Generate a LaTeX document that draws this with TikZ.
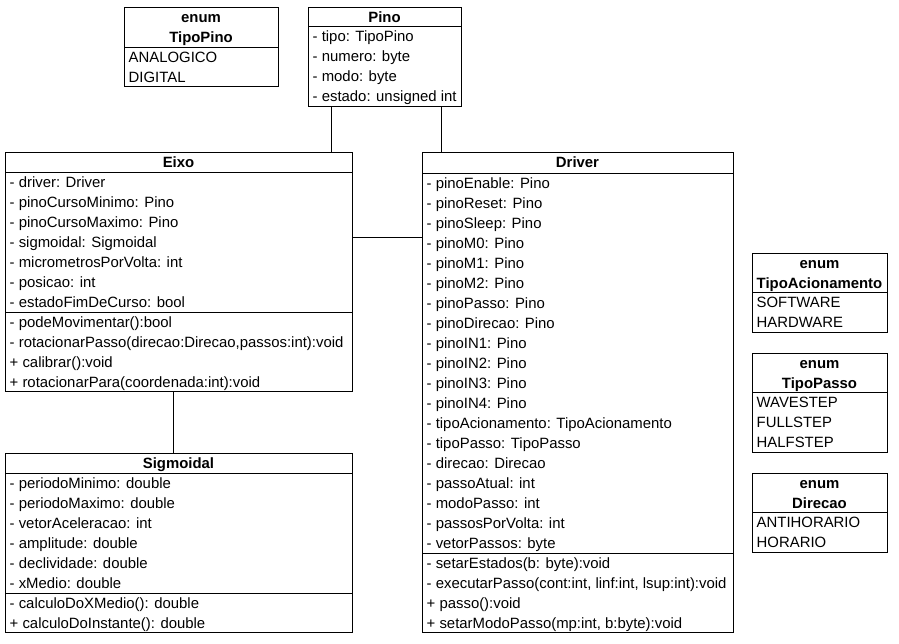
\documentclass[tikz,border=0pt]{standalone}
\usepackage{fontspec}
\setmainfont{Liberation Sans}
\begin{document}
\begin{tikzpicture}[x=1pt,y=-1pt,
  box/.style={draw=black, line width=1pt, fill=white, inner sep=0pt, anchor=north west},
  sep/.style={line width=1pt},
  txt/.style={inner sep=0pt, anchor=base west, font=\fontsize{14.9}{18}\selectfont},
  head/.style={inner sep=0pt, anchor=base, font=\fontsize{14.9}{18}\selectfont\bfseries},
  link/.style={line width=1pt}]
\useasboundingbox[fill=white] (0,0) rectangle (899,643);

% ---------- enum TipoPino ----------
\node[box, minimum width=154pt, minimum height=79pt] (tipopino) at (124,7) {};
\draw[sep] (tipopino.west |- 0,47) -- (tipopino.east |- 0,47);
\node[head] (tipopinoH1) at (201,22) {enum};
\node[head] (tipopinoH2) at (201,42) {TipoPino};
\foreach \t [count=\i] in {ANALOGICO, DIGITAL}
  \node[txt] (tipopinoV\i) at (128.5,{42.3+20*\i}) {\t};

% ---------- Pino ----------
\node[box, minimum width=153pt, minimum height=99pt] (pino) at (308,7) {};
\draw[sep] (pino.west |- 0,26) -- (pino.east |- 0,26);
\node[head] (pinoH) at (384.5,22) {Pino};
\foreach \t [count=\i] in {- tipo: TipoPino, - numero: byte, - modo: byte, - estado: unsigned int}
  \node[txt] (pinoA\i) at (312.5,{21.8+20*\i}) {\t};

% ---------- Eixo ----------
\node[box, minimum width=347pt, minimum height=239pt] (eixo) at (5,152) {};
\draw[sep] (eixo.west |- 0,172) -- (eixo.east |- 0,172);
\draw[sep] (eixo.west |- 0,312) -- (eixo.east |- 0,312);
\node[head] (eixoH) at (178.5,167) {Eixo};
\foreach \t [count=\i] in {- driver: Driver, - pinoCursoMinimo: Pino, - pinoCursoMaximo: Pino,
    - sigmoidal: Sigmoidal, - micrometrosPorVolta: int, - posicao: int, - estadoFimDeCurso: bool}
  \node[txt] (eixoA\i) at (9.5,{167.3+20*\i}) {\t};
\foreach \t [count=\i] in {- podeMovimentar():bool, {- rotacionarPasso(direcao:Direcao,passos:int):void},
    + calibrar():void, + rotacionarPara(coordenada:int):void}
  \node[txt] (eixoM\i) at (9.5,{307.3+20*\i}) {\t};

% ---------- Driver ----------
\node[box, minimum width=311pt, minimum height=480pt] (driver) at (422,152) {};
\draw[sep] (driver.west |- 0,173) -- (driver.east |- 0,173);
\draw[sep] (driver.west |- 0,553) -- (driver.east |- 0,553);
\node[head] (driverH) at (577.5,167) {Driver};
\foreach \t [count=\i] in {- pinoEnable: Pino, - pinoReset: Pino, - pinoSleep: Pino, - pinoM0: Pino,
    - pinoM1: Pino, - pinoM2: Pino, - pinoPasso: Pino, - pinoDirecao: Pino, - pinoIN1: Pino,
    - pinoIN2: Pino, - pinoIN3: Pino, - pinoIN4: Pino, - tipoAcionamento: TipoAcionamento,
    - tipoPasso: TipoPasso, - direcao: Direcao, - passoAtual: int, - modoPasso: int,
    - passosPorVolta: int, - vetorPassos: byte}
  \node[txt] (driverA\i) at (426.5,{168.3+20*\i}) {\t};
\foreach \t [count=\i] in {- setarEstados(b: byte):void, {- executarPasso(cont:int, linf:int, lsup:int):void},
    + passo():void, {+ setarModoPasso(mp:int, b:byte):void}}
  \node[txt] (driverM\i) at (426.5,{548.3+20*\i}) {\t};

% ---------- Sigmoidal ----------
\node[box, minimum width=347pt, minimum height=179pt] (sigmoidal) at (5,453) {};
\draw[sep] (sigmoidal.west |- 0,473) -- (sigmoidal.east |- 0,473);
\draw[sep] (sigmoidal.west |- 0,593) -- (sigmoidal.east |- 0,593);
\node[head] (sigmoidalH) at (178.5,468) {Sigmoidal};
\foreach \t [count=\i] in {- periodoMinimo: double, - periodoMaximo: double, - vetorAceleracao: int,
    - amplitude: double, - declividade: double, - xMedio: double}
  \node[txt] (sigmoidalA\i) at (9.5,{468.3+20*\i}) {\t};
\foreach \t [count=\i] in {- calculoDoXMedio(): double, + calculoDoInstante(): double}
  \node[txt] (sigmoidalM\i) at (9.5,{588.3+20*\i}) {\t};

% ---------- enum TipoAcionamento ----------
\node[box, minimum width=135pt, minimum height=79pt] (tipoac) at (752,253) {};
\draw[sep] (tipoac.west |- 0,292) -- (tipoac.east |- 0,292);
\node[head] (tipoacH1) at (819.5,268) {enum};
\node[head] (tipoacH2) at (819.5,288) {TipoAcionamento};
\foreach \t [count=\i] in {SOFTWARE, HARDWARE}
  \node[txt] (tipoacV\i) at (756.5,{287.3+20*\i}) {\t};

% ---------- enum TipoPasso ----------
\node[box, minimum width=135pt, minimum height=99pt] (tipopasso) at (752,353) {};
\draw[sep] (tipopasso.west |- 0,392) -- (tipopasso.east |- 0,392);
\node[head] (tipopassoH1) at (819.5,368) {enum};
\node[head] (tipopassoH2) at (819.5,388) {TipoPasso};
\foreach \t [count=\i] in {WAVESTEP, FULLSTEP, HALFSTEP}
  \node[txt] (tipopassoV\i) at (756.5,{387.3+20*\i}) {\t};

% ---------- enum Direcao ----------
\node[box, minimum width=135pt, minimum height=79pt] (direcao) at (752,473) {};
\draw[sep] (direcao.west |- 0,512) -- (direcao.east |- 0,512);
\node[head] (direcaoH1) at (819.5,488) {enum};
\node[head] (direcaoH2) at (819.5,508) {Direcao};
\foreach \t [count=\i] in {ANTIHORARIO, HORARIO}
  \node[txt] (direcaoV\i) at (756.5,{507.3+20*\i}) {\t};

% ---------- associations ----------
\coordinate (pinoE) at ([xshift=23pt]pino.south west);
\coordinate (pinoD) at ([xshift=-21pt]pino.south east);
\coordinate (eixoD) at ([yshift=-85pt]eixo.north east);
\coordinate (eixoS) at ([xshift=168pt]eixo.south west);
\draw[link] (pinoE) -- (pinoE |- eixo.north);
\draw[link] (pinoD) -- (pinoD |- driver.north);
\draw[link] (eixoD) -- (eixoD -| driver.west);
\draw[link] (eixoS) -- (eixoS |- sigmoidal.north);
\end{tikzpicture}
\end{document}
